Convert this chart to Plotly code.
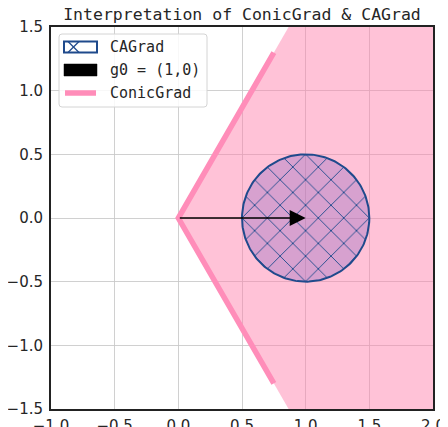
import numpy as np
import plotly.graph_objects as go

# ---- data ----
title_text = "Interpretation of ConicGrad & CAGrad"
g0 = [1.0, 0.0]                 # gradient vector
cagrad_center = [1.0, 0.0]      # CAGrad ball centre
cagrad_radius = 0.5             # CAGrad ball radius
cone_half_angle_deg = 60.0      # ConicGrad cone half angle
cone_edge_length = 1.5          # length of drawn cone edges
x_range = [-1.0, 2.0]
y_range = [-1.5, 1.5]
x_ticks = [-1.0, -0.5, 0.0, 0.5, 1.0, 1.5, 2.0]
y_ticks = [-1.5, -1.0, -0.5, 0.0, 0.5, 1.0, 1.5]
legend_names = ["CAGrad", "g0 = (1,0)", "ConicGrad"]

# ---- layout constants (page pixels; page body has an 8px offset) ----
OFF = 8
W, H = 448 - OFF, 427 - OFF
PL, PR, PT, PB = 51, 433, 27, 409          # plot area in page pixels
ML, MR, MT, MB = PL - OFF, W - (PR - OFF), PT - OFF, H - (PB - OFF)
PW, PH = PR - PL, PB - PT


def px(xp):
    return (xp - PL) / PW


def py(yp):
    return (PB - yp) / PH


# ---- geometry ----
a = np.deg2rad(cone_half_angle_deg)
far = 6.0
cone_x = [0, far * np.cos(a), far, far, far * np.cos(a), 0]
cone_y = [0, far * np.sin(a), far * np.sin(a), -far * np.sin(a), -far * np.sin(a), 0]
edge_x = [cone_edge_length * np.cos(a), 0, cone_edge_length * np.cos(a)]
edge_y = [cone_edge_length * np.sin(a), 0, -cone_edge_length * np.sin(a)]
t = np.linspace(0, 2 * np.pi, 241)
circ_x = cagrad_center[0] + cagrad_radius * np.cos(t)
circ_y = cagrad_center[1] + cagrad_radius * np.sin(t)

PINK_FILL = "rgba(255,128,172,0.48)"
PINK_LINE = "#FF8DB9"
BLUE = "#1F4A8C"
MONO = "DejaVu Sans Mono"
TXT = "#262626"

fig = go.Figure()

# cone fill
fig.add_trace(go.Scatter(x=cone_x, y=cone_y, mode="lines", fill="toself",
                         fillcolor=PINK_FILL, line=dict(width=0, color="rgba(0,0,0,0)"),
                         hoverinfo="skip", showlegend=False))
# cone edges
fig.add_trace(go.Scatter(x=edge_x, y=edge_y, mode="lines",
                         line=dict(color=PINK_LINE, width=5.5), showlegend=False))
# CAGrad ball
fig.add_trace(go.Scatter(x=circ_x, y=circ_y, mode="lines", fill="toself",
                         fillcolor="rgba(140,100,190,0.35)",
                         fillpattern=dict(shape="x", size=18, solidity=0.1,
                                          fgcolor=BLUE, fgopacity=1,
                                          bgcolor="rgba(140,100,190,0.35)"),
                         line=dict(color=BLUE, width=2), showlegend=False))

# g0 arrow
fig.add_annotation(x=g0[0], y=g0[1], ax=0, ay=0, xref="x", yref="y",
                   axref="x", ayref="y", showarrow=True, text="",
                   arrowhead=2, arrowsize=2.0, arrowwidth=1.6, arrowcolor="black")

# ---- legend drawn by hand (box, patches, labels) ----
bx0, bx1, by0, by1, r = 59, 207, 34, 107, 3
box_path = (f"M {px(bx0 + r)} {py(by0)} L {px(bx1 - r)} {py(by0)} "
            f"Q {px(bx1)} {py(by0)} {px(bx1)} {py(by0 + r)} "
            f"L {px(bx1)} {py(by1 - r)} Q {px(bx1)} {py(by1)} {px(bx1 - r)} {py(by1)} "
            f"L {px(bx0 + r)} {py(by1)} Q {px(bx0)} {py(by1)} {px(bx0)} {py(by1 - r)} "
            f"L {px(bx0)} {py(by0 + r)} Q {px(bx0)} {py(by0)} {px(bx0 + r)} {py(by0)} Z")
fig.add_shape(type="path", path=box_path, xref="paper", yref="paper",
              fillcolor="rgba(255,255,255,0.85)", line=dict(color="#d4d4d4", width=1))

rows_y = [47, 70, 93]
sx0, sx1, sh = 64, 97, 11
# CAGrad patch
fig.add_shape(type="rect", xref="paper", yref="paper",
              x0=px(sx0), x1=px(sx1), y0=py(rows_y[0] - sh / 2), y1=py(rows_y[0] + sh / 2),
              fillcolor="white", line=dict(color=BLUE, width=2))
for (xa, ya, xb, yb) in [(68, rows_y[0] - sh / 2, 79, rows_y[0] + sh / 2),
                         (68, rows_y[0] + sh / 2, 79, rows_y[0] - sh / 2)]:
    fig.add_shape(type="line", xref="paper", yref="paper",
                  x0=px(xa), y0=py(ya), x1=px(xb), y1=py(yb),
                  line=dict(color=BLUE, width=1.2))
# g0 patch
fig.add_shape(type="rect", xref="paper", yref="paper",
              x0=px(sx0), x1=px(sx1), y0=py(rows_y[1] - sh / 2 - 0.5), y1=py(rows_y[1] + sh / 2 + 0.5),
              fillcolor="black", line=dict(color="black", width=0.5))
# ConicGrad line
fig.add_shape(type="line", xref="paper", yref="paper",
              x0=px(sx0 + 1), x1=px(sx1 - 1), y0=py(rows_y[2]), y1=py(rows_y[2]),
              line=dict(color=PINK_LINE, width=5.5))
for name, yr in zip(legend_names, rows_y):
    fig.add_annotation(x=px(108), y=py(yr), xref="paper", yref="paper",
                       text=name, showarrow=False, xanchor="left", yanchor="middle",
                       font=dict(family=MONO, size=15, color=TXT))

axis_common = dict(showgrid=True, gridcolor="rgba(200,200,200,0.85)", gridwidth=1,
                   zeroline=False, showline=True, linecolor="#222222", linewidth=2,
                   mirror=True, ticks="", tickformat=".1f", automargin=False,
                   tickfont=dict(family="DejaVu Sans", size=15, color=TXT))

fig.update_xaxes(range=x_range, tickvals=x_ticks, ticklabelstandoff=2, **axis_common)
fig.update_yaxes(range=y_range, tickvals=y_ticks, ticklabelstandoff=3, **axis_common)

fig.update_layout(
    width=W, height=H,
    margin=dict(l=ML, r=MR, t=MT, b=MB, autoexpand=False),
    paper_bgcolor="white", plot_bgcolor="white",
    title=dict(text=title_text, x=(ML + W - MR) / 2 / W, xanchor="center",
               y=1 - (14 - OFF) / H, yanchor="middle",
               font=dict(family=MONO, size=16.5, color=TXT)),
    showlegend=False,
)

fig.write_html("out.html")
